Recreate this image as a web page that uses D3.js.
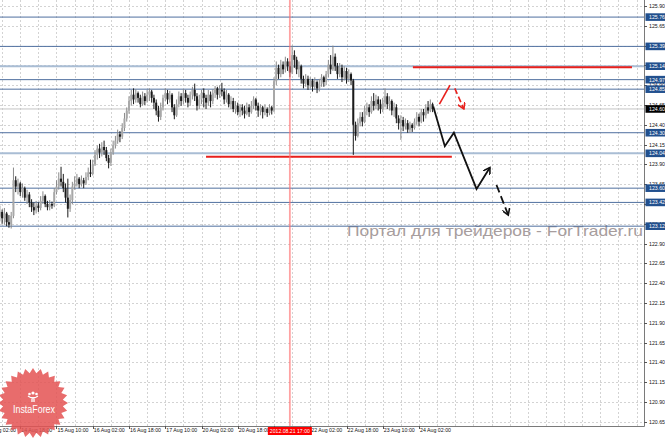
<!DOCTYPE html>
<meta charset="utf-8">
<style>
body { margin: 0; background: #fff; }
svg { display: block; font-family: "Liberation Sans", Arial, sans-serif; }
.grid line { stroke: #c8c8c8; stroke-width: 0.8; stroke-dasharray: 2,2; }
.axis-label { font-size: 5.5px; fill: #111; }
</style>
<body>
<script src="https://d3js.org/d3.v7.min.js"></script>
<script>

// H1 bars, index 0 = 14 Aug 02:00
const firstBar = 7;
const firstOpen = 123.24;
const closes = [
  123.30,123.22,123.28,123.17,123.14,123.25,123.70,123.62,123.66,123.55,
  123.60,123.48,123.52,123.42,123.36,123.32,123.38,123.35,123.44,123.50,
  123.40,123.36,123.40,123.38,123.55,123.62,123.72,123.68,123.60,123.48,
  123.34,123.45,123.62,123.66,123.72,123.65,123.70,123.66,123.74,123.80,
  123.78,123.90,124.02,124.10,124.05,124.12,124.08,123.98,123.92,124.05,
  124.14,124.20,124.28,124.25,124.36,124.48,124.58,124.70,124.78,124.72,
  124.80,124.74,124.66,124.76,124.70,124.78,124.82,124.74,124.68,124.58,
  124.50,124.62,124.74,124.80,124.72,124.78,124.62,124.52,124.66,124.76,
  124.70,124.80,124.74,124.68,124.78,124.84,124.76,124.64,124.72,124.80,
  124.74,124.68,124.78,124.70,124.80,124.86,124.78,124.84,124.82,124.72,
  124.78,124.66,124.70,124.60,124.64,124.56,124.62,124.58,124.54,124.62,
  124.56,124.64,124.72,124.64,124.58,124.62,124.56,124.60,124.55,124.62,
  124.58,124.95,125.12,125.04,125.16,125.10,125.20,125.14,125.06,125.28,
  125.22,125.10,125.14,124.98,124.92,124.98,124.90,124.96,124.88,124.94,
  124.86,124.92,125.00,124.94,125.04,125.16,125.10,125.26,125.14,125.04,
  125.12,125.00,125.08,124.98,125.04,124.96,124.40,124.26,124.42,124.50,
  124.44,124.58,124.62,124.56,124.70,124.64,124.72,124.66,124.60,124.68,
  124.76,124.66,124.70,124.58,124.62,124.48,124.42,124.46,124.38,124.42,
  124.34,124.40,124.36,124.44,124.50,124.44,124.56,124.52,124.62,124.58,
  124.66,124.60
];
const highs = [
  123.38,123.33,123.35,123.30,123.26,123.30,123.86,123.75,123.72,123.68,
  123.66,123.62,123.58,123.55,123.46,123.42,123.44,123.42,123.50,123.56,
  123.52,123.44,123.45,123.43,123.60,123.70,123.80,123.87,123.78,123.66,
  123.72,123.52,123.68,123.75,123.78,123.74,123.76,123.73,123.80,123.86,
  123.96,123.96,124.08,124.14,124.16,124.18,124.20,124.12,124.02,124.10,
  124.20,124.26,124.34,124.32,124.42,124.55,124.62,124.76,124.84,124.86,
  124.85,124.82,124.78,124.82,124.80,124.84,124.86,124.84,124.78,124.72,
  124.64,124.68,124.78,124.86,124.84,124.83,124.80,124.66,124.72,124.82,
  124.80,124.85,124.84,124.78,124.82,124.88,124.92,124.80,124.78,124.84,
  124.86,124.78,124.84,124.82,124.85,124.89,124.88,124.90,124.93,124.86,
  124.84,124.80,124.76,124.74,124.70,124.68,124.66,124.66,124.64,124.68,
  124.66,124.70,124.76,124.74,124.68,124.66,124.64,124.66,124.62,124.66,
  124.64,125.00,125.20,125.16,125.22,125.20,125.26,125.24,125.20,125.40,
  125.34,125.26,125.20,125.16,125.02,125.04,125.02,125.00,124.98,125.00,
  124.96,124.98,125.04,125.02,125.08,125.22,125.28,125.40,125.30,125.18,
  125.18,125.16,125.14,125.12,125.10,125.06,124.98,124.44,124.48,124.56,
  124.56,124.64,124.68,124.66,124.76,124.80,124.78,124.76,124.72,124.74,
  124.86,124.80,124.76,124.72,124.68,124.66,124.52,124.52,124.50,124.48,
  124.46,124.44,124.42,124.48,124.56,124.54,124.60,124.60,124.66,124.70,
  124.72,124.68
];
const lows = [
  123.18,123.15,123.14,123.12,123.10,123.09,123.22,123.55,123.52,123.50,
  123.48,123.44,123.40,123.36,123.30,123.26,123.28,123.30,123.32,123.40,
  123.36,123.32,123.32,123.34,123.36,123.52,123.58,123.62,123.55,123.42,
  123.23,123.30,123.40,123.58,123.62,123.60,123.62,123.60,123.64,123.70,
  123.74,123.76,123.88,123.96,123.98,124.00,124.02,123.94,123.85,123.88,
  124.02,124.10,124.16,124.18,124.22,124.32,124.44,124.54,124.64,124.66,
  124.68,124.68,124.62,124.64,124.65,124.68,124.70,124.68,124.60,124.52,
  124.44,124.46,124.58,124.70,124.66,124.68,124.56,124.47,124.50,124.62,
  124.64,124.66,124.68,124.62,124.64,124.72,124.70,124.58,124.60,124.66,
  124.62,124.60,124.64,124.62,124.66,124.74,124.72,124.74,124.76,124.66,
  124.68,124.62,124.60,124.56,124.54,124.52,124.50,124.52,124.48,124.52,
  124.50,124.54,124.60,124.58,124.50,124.52,124.48,124.52,124.50,124.52,
  124.53,124.56,124.90,124.98,125.00,125.04,125.06,125.08,125.00,125.04,
  125.12,125.04,125.00,124.92,124.86,124.88,124.84,124.86,124.82,124.84,
  124.80,124.82,124.88,124.88,124.90,125.00,125.04,125.08,125.08,124.98,
  125.00,124.94,124.96,124.92,124.94,124.90,124.02,124.20,124.24,124.38,
  124.38,124.42,124.52,124.50,124.54,124.58,124.60,124.58,124.54,124.56,
  124.62,124.60,124.58,124.52,124.50,124.42,124.34,124.21,124.32,124.34,
  124.30,124.30,124.31,124.34,124.40,124.38,124.42,124.44,124.48,124.54,
  124.56,124.56
];

// time axis: one label every 16 bars
const timeLabels = ["14 Aug 02:00","14 Aug 18:00","15 Aug 10:00","16 Aug 02:00","16 Aug 18:00",
  "17 Aug 10:00","20 Aug 02:00","20 Aug 18:00","21 Aug 10:00","22 Aug 02:00","22 Aug 18:00",
  "23 Aug 10:00","24 Aug 02:00"];
const priceTicks = ["125.90","125.65","125.40","125.15","124.90","124.65","124.40","124.15",
  "123.90","123.65","123.40","123.15","122.90","122.65","122.40","122.15","121.90","121.65",
  "121.40","121.15","120.90","120.65"];

// horizontal levels
const levelPrices = [125.76, 125.39, 125.14, 124.97, 124.85, 124.30, 124.04, 123.60, 123.42, 123.12];
const levelLight  = [false, false, true, false, false, false, true, false, false, false];
const bidPrice = 124.60;

// red support / resistance
const redPrices = [125.14, 124.01];
const redFrom = [189.3, 98];
const redTo = [286, 206.5];

// forecast arrows [bar, price]
const blackPath = [[198.3,124.63],[203.4,124.13],[207.4,124.30],[217.4,123.59],[223.3,123.86]];
const blackDash = [[226.2,123.64],[231.4,123.26]];
const redUp = [[201,124.66],[205.7,124.90]];
const redDown = [[207.8,124.86],[211.8,124.60]];
const cursorBar = 135;

const width = 665, height = 438;
const plotRight = 644, plotBottom = 426;

const x = d3.scaleLinear().domain([0, 192]).range([-16, 419]);
const y = d3.scaleLinear().domain([120.65, 125.90]).range([421.8, 6]);

const svg = d3.select("body").append("svg")
    .attr("width", width)
    .attr("height", height);

svg.append("defs").append("clipPath").attr("id", "plot")
  .append("rect").attr("x", 0).attr("y", 0).attr("width", plotRight).attr("height", plotBottom);

const defs = svg.select("defs");
[["arrBlack", "#111"], ["arrRed", "#e8201c"]].forEach(function(m) {
  defs.append("marker")
      .attr("id", m[0])
      .attr("viewBox", "0 0 10 10")
      .attr("refX", 8).attr("refY", 5)
      .attr("markerWidth", 8).attr("markerHeight", 8)
      .attr("markerUnits", "userSpaceOnUse")
      .attr("orient", "auto")
    .append("path")
      .attr("d", "M0,0L8,5L0,10")
      .attr("fill", "none")
      .attr("stroke", m[1])
      .attr("stroke-width", 2);
});

const plot = svg.append("g").attr("clip-path", "url(#plot)");

// grid
const grid = plot.append("g").attr("class", "grid");
grid.selectAll(".gy").data(priceTicks).enter().append("line")
    .attr("x1", 0).attr("x2", plotRight)
    .attr("y1", d => Math.round(y(+d)) + 0.5).attr("y2", d => Math.round(y(+d)) + 0.5);
grid.selectAll(".gx").data(d3.range(8, 300, 8)).enter().append("line")
    .attr("y1", 0).attr("y2", plotBottom)
    .attr("x1", d => Math.round(x(d)) + 0.5).attr("x2", d => Math.round(x(d)) + 0.5);

// watermark
plot.append("text")
    .attr("x", 347).attr("y", 236)
    .attr("textLength", 296).attr("lengthAdjust", "spacingAndGlyphs")
    .style("font-size", "15px")
    .style("fill", "#a79d9d")
    .text("Портал для трейдеров - ForTrader.ru");

// levels
plot.selectAll(".level").data(levelPrices).enter().append("line")
    .attr("x1", 0).attr("x2", plotRight)
    .attr("y1", d => y(d)).attr("y2", d => y(d))
    .attr("stroke", (d, i) => levelLight[i] ? "#a9bdd4" : "#4f6f9f")
    .attr("stroke-width", (d, i) => levelLight[i] ? 2 : 1);

plot.append("line")
    .attr("x1", 0).attr("x2", plotRight)
    .attr("y1", y(bidPrice)).attr("y2", y(bidPrice))
    .attr("stroke", "#c4c4c4").attr("stroke-width", 1);

// candles
const bars = closes.map(function(c, k) {
  return {i: firstBar + k, o: k ? closes[k - 1] : firstOpen, c: c, h: highs[k], l: lows[k]};
});
const candle = plot.append("g").selectAll("g").data(bars).enter().append("g");
candle.append("line")
    .attr("x1", d => x(d.i)).attr("x2", d => x(d.i))
    .attr("y1", d => y(d.h)).attr("y2", d => y(d.l))
    .attr("stroke", d => d.c >= d.o ? "#8a8a8a" : "#1a1a1a")
    .attr("stroke-width", 1);
candle.append("rect")
    .attr("x", d => x(d.i) - 1)
    .attr("width", 2)
    .attr("y", d => y(Math.max(d.o, d.c)))
    .attr("height", d => Math.max(0.8, Math.abs(y(d.o) - y(d.c))))
    .attr("fill", d => d.c >= d.o ? "#a8a8a8" : "#1a1a1a");

// red horizontal lines
plot.selectAll(".red").data(redPrices).enter().append("line")
    .attr("x1", (d, i) => x(redFrom[i])).attr("x2", (d, i) => x(redTo[i]))
    .attr("y1", d => y(d) + 1).attr("y2", d => y(d) + 1)
    .attr("stroke", "#e8201c").attr("stroke-width", 2);

// cursor line
plot.append("line")
    .attr("x1", x(cursorBar)).attr("x2", x(cursorBar))
    .attr("y1", 0).attr("y2", plotBottom)
    .attr("stroke", "#ff7070").attr("stroke-opacity", 0.65).attr("stroke-width", 1.8);

// forecast arrows
const line = d3.line().x(d => x(d[0])).y(d => y(d[1]));
plot.append("path").attr("d", line(blackPath))
    .attr("fill", "none").attr("stroke", "#111").attr("stroke-width", 1.8)
    .attr("marker-end", "url(#arrBlack)");
plot.append("path").attr("d", line(blackDash))
    .attr("fill", "none").attr("stroke", "#111").attr("stroke-width", 1.8)
    .attr("stroke-dasharray", "8,4")
    .attr("marker-end", "url(#arrBlack)");
plot.append("path").attr("d", line(redUp))
    .attr("fill", "none").attr("stroke", "#e8201c").attr("stroke-width", 1.6);
plot.append("path").attr("d", line(redDown))
    .attr("fill", "none").attr("stroke", "#e8201c").attr("stroke-width", 1.6)
    .attr("stroke-dasharray", "6,3")
    .attr("marker-end", "url(#arrRed)");

// frame
svg.append("path")
    .attr("d", "M" + (plotRight + 0.5) + ",0V" + (plotBottom + 0.5) + "H0")
    .attr("fill", "none").attr("stroke", "#7a7a7a").attr("stroke-width", 1);

// price axis
const pa = svg.append("g");
pa.selectAll("line").data(priceTicks).enter().append("line")
    .attr("x1", plotRight).attr("x2", plotRight + 3)
    .attr("y1", d => Math.round(y(+d)) + 0.5).attr("y2", d => Math.round(y(+d)) + 0.5)
    .attr("stroke", "#555");
pa.selectAll("text").data(priceTicks).enter().append("text")
    .attr("class", "axis-label")
    .attr("x", plotRight + 5).attr("y", d => y(+d) + 2)
    .attr("textLength", 16).attr("lengthAdjust", "spacingAndGlyphs")
    .text(d => d);

// level boxes
const boxes = svg.append("g").selectAll("g").data(levelPrices).enter().append("g")
    .attr("transform", d => "translate(" + (plotRight + 1.5) + "," + y(d) + ")");
boxes.append("rect")
    .attr("x", 0).attr("y", -3.8).attr("width", 22).attr("height", 7.6)
    .attr("fill", "#22508e");
boxes.append("text")
    .attr("class", "axis-label")
    .attr("x", 3.5).attr("y", 2)
    .attr("textLength", 16).attr("lengthAdjust", "spacingAndGlyphs")
    .style("fill", "#fff")
    .text(d => d.toFixed(2));

const bid = svg.append("g").attr("transform", "translate(" + (plotRight + 1.5) + "," + y(bidPrice) + ")");
bid.append("rect").attr("x", 0).attr("y", -3.8).attr("width", 22).attr("height", 7.6).attr("fill", "#000");
bid.append("text").attr("class", "axis-label").attr("x", 3.5).attr("y", 2)
    .attr("textLength", 16).attr("lengthAdjust", "spacingAndGlyphs")
    .style("fill", "#fff").text(bidPrice.toFixed(2));

// time axis
const ta = svg.append("g");
ta.selectAll("line").data(timeLabels).enter().append("line")
    .attr("x1", (d, i) => Math.round(x(i * 16)) + 0.5).attr("x2", (d, i) => Math.round(x(i * 16)) + 0.5)
    .attr("y1", plotBottom).attr("y2", plotBottom + 3)
    .attr("stroke", "#555");
ta.selectAll("text").data(timeLabels).enter().append("text")
    .attr("class", "axis-label")
    .attr("x", (d, i) => x(i * 16) + 1).attr("y", 432)
    .attr("textLength", 31).attr("lengthAdjust", "spacingAndGlyphs")
    .text(d => d);

// cursor time box
const cb = svg.append("g").attr("transform", "translate(" + x(cursorBar) + ",0)");
cb.append("rect").attr("x", -22).attr("y", 427).attr("width", 44).attr("height", 8).attr("fill", "#ff0000");
cb.append("text").attr("class", "axis-label").attr("x", -20).attr("y", 433)
    .attr("textLength", 40).attr("lengthAdjust", "spacingAndGlyphs")
    .style("fill", "#fff").text("2012.08.21 17:00");

// InstaForex seal
const logo = svg.append("g").attr("transform", "translate(33,403)").attr("opacity", 0.85);
const spikes = 28;
const seal = d3.range(spikes * 2).map(function(k) {
  const a = k / (spikes * 2) * 2 * Math.PI, r = k % 2 ? 30 : 35;
  return [Math.sin(a) * r, -Math.cos(a) * r];
});
logo.append("path").attr("d", "M" + seal.join("L") + "Z").attr("fill", "#e45353");
logo.append("circle").attr("cx", 0).attr("cy", -10).attr("r", 1.6).attr("fill", "#fff");
logo.append("circle").attr("cx", -3.5).attr("cy", -9).attr("r", 1.3).attr("fill", "#fff");
logo.append("circle").attr("cx", 3.5).attr("cy", -9).attr("r", 1.3).attr("fill", "#fff");
logo.append("path").attr("d", "M-5,-7Q0,-3 5,-7M-1,-6V-1M1,-6V-1")
    .attr("fill", "none").attr("stroke", "#fff").attr("stroke-width", 1.3);
logo.append("text")
    .attr("x", -20).attr("y", 10)
    .attr("textLength", 42).attr("lengthAdjust", "spacingAndGlyphs")
    .style("font-size", "10px").style("fill", "#fff")
    .text("InstaForex");

</script>
